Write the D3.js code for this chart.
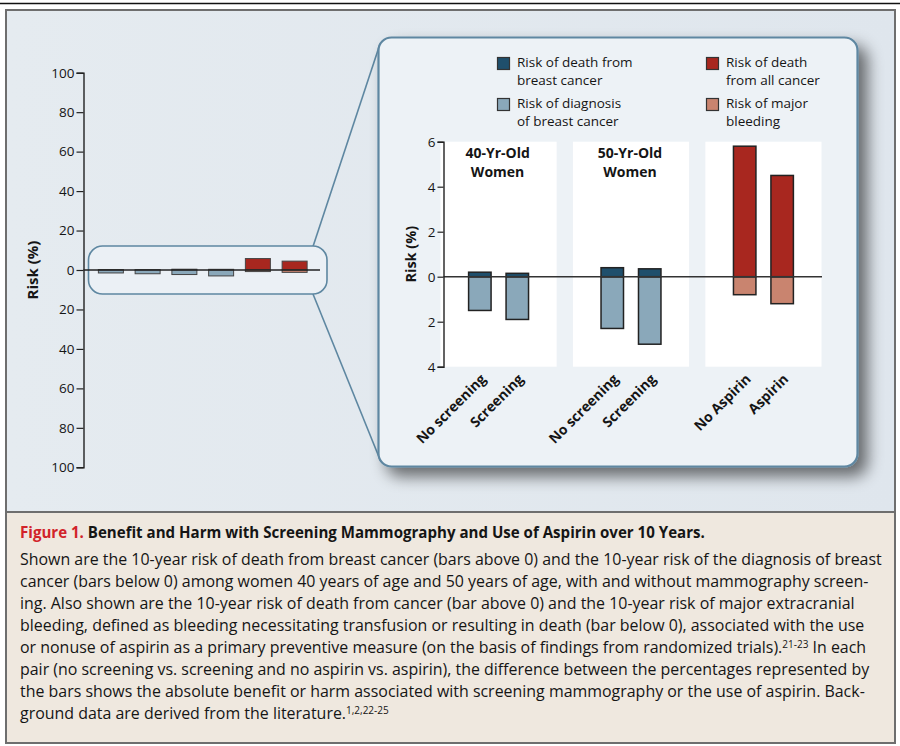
<!DOCTYPE html>
<html>
<head>
<meta charset="utf-8">
<script src="https://cdn.jsdelivr.net/npm/d3@7"></script>
<style>
  html, body { margin: 0; padding: 0; background: #ffffff; }
  svg { display: block; }
  text { font-family: "Open Sans", "Noto Sans", sans-serif; fill: #151515; }
</style>
</head>
<body>
<svg id="chart" width="900" height="746"></svg>
<script>
// ---------------- DATA ----------------
const groups = ["40-Yr-Old Women", "50-Yr-Old Women", "Aspirin"];
const categories = ["No screening", "Screening", "No screening", "Screening", "No Aspirin", "Aspirin"];
const categoryGroup = [0, 0, 1, 1, 2, 2];
// bars above 0 (risk of death, %)
const riskAbove = [0.2, 0.15, 0.4, 0.35, 5.8, 4.5];
// bars below 0 (risk of diagnosis / major bleeding, %)
const riskBelow = [1.5, 1.9, 2.3, 3.0, 0.8, 1.2];
const aboveSeries = [0, 0, 0, 0, 2, 2];
const belowSeries = [1, 1, 1, 1, 3, 3];
const seriesNames = [
  ["Risk of death from", "breast cancer"],
  ["Risk of diagnosis", "of breast cancer"],
  ["Risk of death", "from all cancer"],
  ["Risk of major", "bleeding"]
];
const seriesColors = ["#1f4f6c", "#8aa8ba", "#a8271f", "#c9846f"];
const miniTicks = [-100, -80, -60, -40, -20, 0, 20, 40, 60, 80, 100];
const insetTicks = [-4, -2, 0, 2, 4, 6];
const captionTitleRed = "Figure 1.";
const captionTitle = "Benefit and Harm with Screening Mammography and Use of Aspirin over 10 Years.";
const captionLines = [
  ["Shown are the 10-year risk of death from breast cancer (bars above 0) and the 10-year risk of the diagnosis of breast"],
  ["cancer (bars below 0) among women 40 years of age and 50 years of age, with and without mammography screen-"],
  ["ing. Also shown are the 10-year risk of death from cancer (bar above 0) and the 10-year risk of major extracranial"],
  ["bleeding, defined as bleeding necessitating transfusion or resulting in death (bar below 0), associated with the use"],
  ["or nonuse of aspirin as a primary preventive measure (on the basis of findings from randomized trials).", "21-23", " In each"],
  ["pair (no screening vs. screening and no aspirin vs. aspirin), the difference between the percentages represented by"],
  ["the bars shows the absolute benefit or harm associated with screening mammography or the use of aspirin. Back-"],
  ["ground data are derived from the literature.", "1,2,22-25"]
];

// ---------------- SETUP ----------------
const svg = d3.select("#chart");
const defs = svg.append("defs");
const f = defs.append("filter").attr("id", "shadow")
  .attr("x", "-10%").attr("y", "-10%").attr("width", "130%").attr("height", "130%");
f.append("feGaussianBlur").attr("in", "SourceAlpha").attr("stdDeviation", 8).attr("result", "b");
f.append("feOffset").attr("in", "b").attr("dx", 9).attr("dy", 9).attr("result", "o");
f.append("feComponentTransfer").attr("in", "o").attr("result", "s")
  .append("feFuncA").attr("type", "linear").attr("slope", 0.55);
const fm = f.append("feMerge");
fm.append("feMergeNode").attr("in", "s");
fm.append("feMergeNode").attr("in", "SourceGraphic");

const bg = defs.append("linearGradient").attr("id", "bgGrad").attr("x1", "0").attr("x2", "1").attr("y1", "0").attr("y2", "0");
bg.append("stop").attr("offset", "0").attr("stop-color", "#e5ebf0");
bg.append("stop").attr("offset", "1").attr("stop-color", "#dfe6ed");

// top rule
svg.append("line").attr("x1", 0).attr("x2", 900).attr("y1", 3.5).attr("y2", 3.5)
  .attr("stroke", "#111").attr("stroke-width", 1.5);

// chart panel & caption panel
svg.append("rect").attr("x", 6).attr("y", 10).attr("width", 889).attr("height", 502)
  .attr("fill", "url(#bgGrad)").attr("stroke", "#6e6e6e").attr("stroke-width", 2);
svg.append("rect").attr("x", 6).attr("y", 512).attr("width", 889).attr("height", 231)
  .attr("fill", "#efe8df").attr("stroke", "#6e6e6e").attr("stroke-width", 2);

// ---------------- MINI CHART ----------------
const miniY = d3.scaleLinear().domain([-100, 100]).range([467.3, 72.7]);
const miniX = d3.scaleBand().domain(d3.range(categories.length)).range([92.5, 313])
  .paddingInner(0.32).paddingOuter(0.16);

const miniAxis = svg.append("g").attr("transform", "translate(83.5,0)")
  .call(d3.axisLeft(miniY).tickValues(miniTicks).tickSize(7).tickPadding(2).tickFormat(d => Math.abs(d)))
  .attr("font-size", 13.5).attr("font-family", "'Open Sans', sans-serif");
miniAxis.select(".domain").attr("stroke", "#222").attr("stroke-width", 1.4);
miniAxis.selectAll(".tick line").attr("stroke", "#222").attr("stroke-width", 1.2);
miniAxis.selectAll(".tick text").attr("fill", "#151515");

svg.append("text").attr("transform", `translate(38,${miniY(0)}) rotate(-90)`)
  .attr("text-anchor", "middle").style("font-size", "15px").style("font-weight", "bold")
  .text("Risk (%)");

// connectors (behind)
svg.append("line").attr("x1", 313).attr("y1", 246.5).attr("x2", 380).attr("y2", 44)
  .attr("stroke", "#5e87a1").attr("stroke-width", 1.6);
svg.append("line").attr("x1", 313).attr("y1", 294).attr("x2", 381).attr("y2", 462)
  .attr("stroke", "#5e87a1").attr("stroke-width", 1.6);

// callout
svg.append("rect").attr("x", 88.5).attr("y", 246).attr("width", 238.5).attr("height", 48)
  .attr("rx", 14).attr("fill", "#ebf0f5").attr("stroke", "#5e87a1").attr("stroke-width", 1.6);

const miniBars = svg.append("g");
categories.forEach((c, i) => {
  miniBars.append("rect").attr("x", miniX(i)).attr("width", miniX.bandwidth())
    .attr("y", miniY(riskAbove[i])).attr("height", miniY(0) - miniY(riskAbove[i]))
    .attr("fill", seriesColors[aboveSeries[i]]).attr("stroke", "#444").attr("stroke-width", 1);
  miniBars.append("rect").attr("x", miniX(i)).attr("width", miniX.bandwidth())
    .attr("y", miniY(0)).attr("height", miniY(-riskBelow[i]) - miniY(0))
    .attr("fill", seriesColors[belowSeries[i]]).attr("stroke", "#444").attr("stroke-width", 1);
});
svg.append("line").attr("x1", 83.5).attr("x2", 320).attr("y1", miniY(0)).attr("y2", miniY(0))
  .attr("stroke", "#222").attr("stroke-width", 1.3);

// ---------------- INSET ----------------
svg.append("rect").attr("x", 378.5).attr("y", 37.5).attr("width", 479).attr("height", 429)
  .attr("rx", 13).attr("fill", "#edf2f6").attr("stroke", "#5e87a1").attr("stroke-width", 2.2)
  .attr("filter", "url(#shadow)");

// legend
const legendPos = [[497, 57], [497, 98], [706, 57], [706, 98]];
seriesNames.forEach((lines, k) => {
  const [lx, ly] = legendPos[k];
  svg.append("rect").attr("x", lx + 0.5).attr("y", ly + 0.5).attr("width", 12).attr("height", 12)
    .attr("fill", seriesColors[k]).attr("stroke", "#333").attr("stroke-width", 1.2);
  const t = svg.append("text").attr("x", lx + 20).attr("y", ly + 10).style("font-size", "13.5px");
  lines.forEach((l, j) => t.append("tspan").attr("x", lx + 20).attr("dy", j === 0 ? 0 : 18.3).text(l));
});

const y = d3.scaleLinear().domain([-4, 6]).range([366.7, 141.7]);
const gx = d3.scaleBand().domain(d3.range(groups.length)).range([440.5, 821.5]).paddingInner(0.123);
const ix = d3.scaleBand().domain([0, 1]).range([0, gx.bandwidth()]).paddingInner(0.4).paddingOuter(0.75);

// white panels
groups.forEach((g, k) => {
  svg.append("rect").attr("x", gx(k)).attr("y", y(6)).attr("width", gx.bandwidth())
    .attr("height", y(-4) - y(6)).attr("fill", "#ffffff");
});
// panel headings
groups.forEach((g, k) => {
  if (k === 2) return;
  const words = g.split(" ");
  const cx = gx(k) + gx.bandwidth() / 2 - 1;
  const t = svg.append("text").attr("text-anchor", "middle").attr("y", 157.5)
    .style("font-size", "14px").style("font-weight", "bold");
  t.append("tspan").attr("x", cx).text(words[0]);
  t.append("tspan").attr("x", cx).attr("dy", 19).text(words[1]);
});

const bars = svg.append("g");
categories.forEach((c, i) => {
  const bx = gx(categoryGroup[i]) + ix(i % 2);
  bars.append("rect").attr("x", bx).attr("width", ix.bandwidth())
    .attr("y", y(0)).attr("height", y(-riskBelow[i]) - y(0))
    .attr("fill", seriesColors[belowSeries[i]]).attr("stroke", "#222").attr("stroke-width", 1.5);
  bars.append("rect").attr("x", bx).attr("width", ix.bandwidth())
    .attr("y", y(riskAbove[i])).attr("height", y(0) - y(riskAbove[i]))
    .attr("fill", seriesColors[aboveSeries[i]]).attr("stroke", "#222").attr("stroke-width", 1.5);
  // x label
  const cx = bx + ix.bandwidth() / 2;
  svg.append("text").attr("text-anchor", "end")
    .attr("transform", `translate(${cx + 7},${380}) rotate(-45)`)
    .style("font-size", "14px").style("font-weight", "bold").text(c);
});

// zero line
svg.append("line").attr("x1", 443.5).attr("x2", 822).attr("y1", y(0)).attr("y2", y(0))
  .attr("stroke", "#333").attr("stroke-width", 1.5);

const insetAxis = svg.append("g").attr("transform", "translate(443.5,0)")
  .call(d3.axisLeft(y).tickValues(insetTicks).tickSize(6).tickPadding(2).tickFormat(d => Math.abs(d)))
  .attr("font-size", 13.5).attr("font-family", "'Open Sans', sans-serif");
insetAxis.select(".domain").attr("stroke", "#222").attr("stroke-width", 1.4);
insetAxis.selectAll(".tick line").attr("stroke", "#222").attr("stroke-width", 1.2);
insetAxis.selectAll(".tick text").attr("fill", "#151515");

svg.append("text").attr("transform", `translate(416,${(y(6) + y(-4)) / 2}) rotate(-90)`)
  .attr("text-anchor", "middle").style("font-size", "14.5px").style("font-weight", "bold")
  .text("Risk (%)");

// ---------------- CAPTION ----------------
const title = svg.append("text").attr("x", 20).attr("y", 538).style("font-size", "15px").style("font-weight", "bold");
title.append("tspan").attr("fill", "#d2232a").style("fill", "#d2232a").text(captionTitleRed + " ");
title.append("tspan").text(captionTitle);
// fit title width to reference (ends near x=705)
const tw = title.node().getComputedTextLength();
title.style("font-size", (15 * 685 / tw).toFixed(2) + "px");

const body = svg.append("g");
const lineNodes = captionLines.map((parts, i) => {
  const t = body.append("text").attr("x", 20).attr("y", 565 + i * 22).style("font-size", "15px");
  parts.forEach((p, j) => {
    if (j % 2 === 1) {
      t.append("tspan").attr("dy", -5.5).style("font-size", "10px").text(p);
    } else if (j > 0) {
      t.append("tspan").attr("dy", 5.5).text(p);
    } else {
      t.append("tspan").text(p);
    }
  });
  return t;
});
const w0 = lineNodes[0].node().getComputedTextLength();
const fs = 15 * 862 / w0;
lineNodes.forEach(t => t.style("font-size", fs.toFixed(2) + "px"));
</script>
</body>
</html>
